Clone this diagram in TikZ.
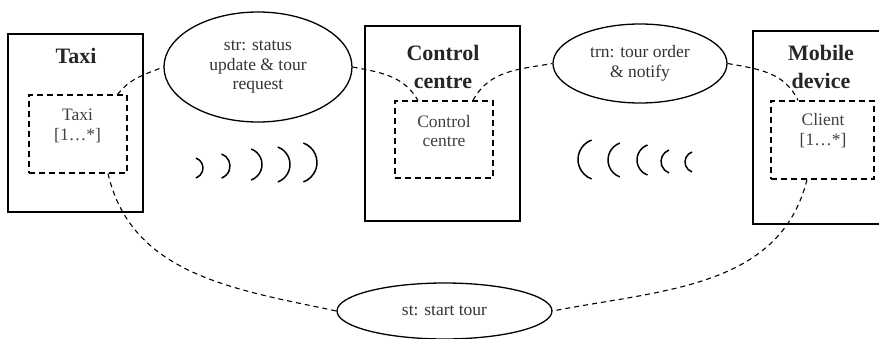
\documentclass[tikz,border=0pt]{standalone}
\usepackage{fontspec}
\setmainfont{Liberation Serif}
\usetikzlibrary{shapes.geometric}
\tikzstyle{component}=[draw, line width=1.3pt, inner sep=0pt]
\tikzstyle{instance}=[draw, line width=1.1pt, dash pattern=on 6pt off 4pt, inner sep=0pt]
\tikzstyle{title}=[font=\fontsize{22}{28.5}\selectfont\bfseries, text=black!85, align=center]
\tikzstyle{role}=[font=\fontsize{17.5}{19.5}\selectfont, text=black!75, align=center]
\tikzstyle{channel}=[ellipse, draw, line width=1.3pt, inner sep=0pt, font=\fontsize{17.5}{19.5}\selectfont, text=black!80, align=center]
\tikzstyle{link}=[line width=1.1pt, dash pattern=on 5pt off 4pt]
\tikzstyle{wave}=[line width=1.5pt]

\begin{document}
\begin{tikzpicture}[x=1pt, y=1pt]
      \useasboundingbox (0, 0) rectangle (879, 338);

      \node[component, minimum width=135pt, minimum height=178pt] (taxi) at (75.5, 215) {};
      \node[title, anchor=base] (taxiT) at (76, 274) {Taxi};
      \node[instance, minimum width=98pt, minimum height=78pt] (taxiIn) at (78, 204) {};
      \node[role] (taxiR) at (77.5, 212) {Taxi\\{[1…*]}};

      \node[component, minimum width=155pt, minimum height=195pt] (ctrl) at (442.5, 214.5) {};
      \node[title] (ctrlT) at (443, 271) {Control\\centre};
      \node[instance, minimum width=98pt, minimum height=77pt] (ctrlIn) at (444, 198.5) {};
      \node[role] (ctrlR) at (444, 207) {Control\\centre};

      \node[component, minimum width=137pt, minimum height=193pt] (mobile) at (821.5, 210.5) {};
      \node[title] (mobileT) at (821, 271) {Mobile\\device};
      \node[instance, minimum width=103pt, minimum height=78pt] (clientIn) at (822.5, 198) {};
      \node[role] (clientR) at (823, 207.5) {Client\\{[1…*]}};

      \node[channel, minimum width=188pt, minimum height=110pt] (str) at (258, 271) {str: status\\update \& tour\\request};
      \node[channel, minimum width=174pt, minimum height=79pt] (trn) at (640, 274.5) {trn: tour order\\\& notify};
      \node[channel, minimum width=215pt, minimum height=56pt] (st) at (444.5, 27) {st: start tour};

      \draw[link] ([xshift=-10pt]taxiIn.north east) to[out=52, in=202] (str.west);
      \draw[link] (str.east) to[out=-11, in=120] ([xshift=-26pt]ctrlIn.north);
      \draw[link] ([xshift=29pt]ctrlIn.north) to[out=62, in=190] (trn.west);
      \draw[link] (trn.east) to[out=-10, in=115] ([xshift=-24.5pt]clientIn.north);
      \draw[link] ([xshift=30pt]taxiIn.south) to[out=-77, in=168] (st.west);
      \draw[link] ([xshift=-15.5pt]clientIn.south) to[out=-104, in=11] (st.east);

      % outgoing waves
      \foreach \x/\y/\r in {203/170/10.6, 230/172/12.8, 262/173.5/16.5, 290/173.5/18.6, 317/175.5/20.7}
        \draw[wave] (\x-\r, \y) ++(70:\r pt) arc[start angle=70, end angle=-70, radius=\r pt];
      % incoming waves
      \foreach \x/\y/\r in {578/178.5/20.7, 608/178/18, 637/178/16, 661/176.5/12.2, 685/176/10.6}
        \draw[wave] (\x+\r, \y) ++(110:\r pt) arc[start angle=110, end angle=250, radius=\r pt];
\end{tikzpicture}
\end{document}
